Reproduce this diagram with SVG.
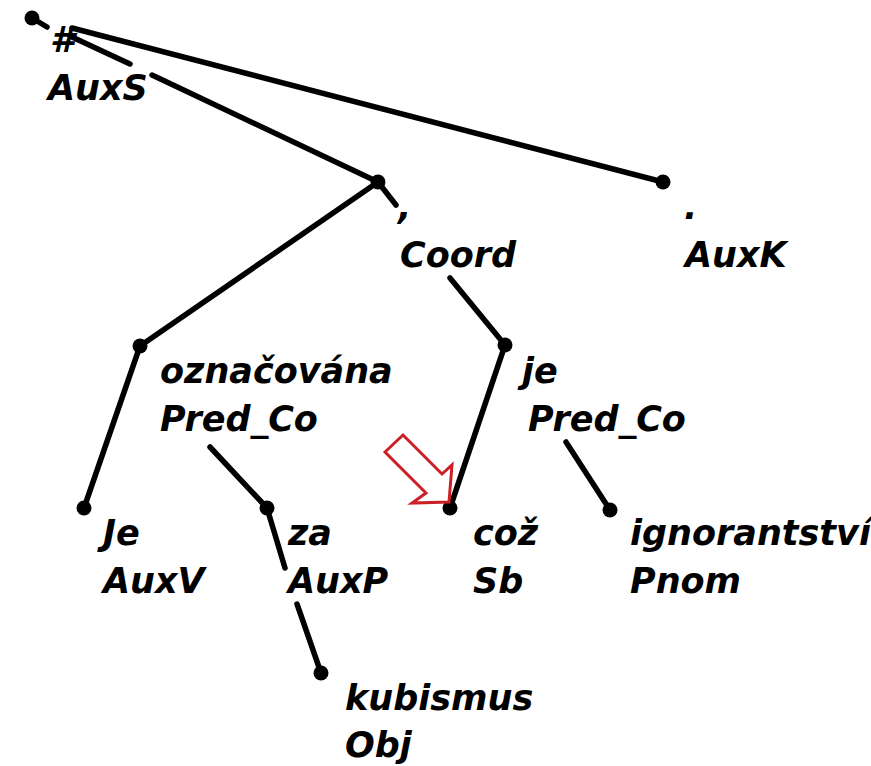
<svg xmlns="http://www.w3.org/2000/svg" width="871" height="766" viewBox="0 0 871 766">
<style>
  .lbl { font-family: "DejaVu Sans", "Liberation Sans", sans-serif; font-style: oblique; font-weight: bold; font-size: 35px; fill: #000; }
  .edge { stroke: #000; stroke-width: 5.5; stroke-linecap: round; fill: none; }
  .dot { fill: #000; }
</style>
<rect width="871" height="766" fill="#fff"/>
<g id="connectors">
  <line class="edge" x1="32" y1="18" x2="47" y2="27"/>
  <line class="edge" x1="72" y1="37" x2="130" y2="64"/>
  <line class="edge" x1="152" y1="75" x2="378" y2="182"/>
  <line class="edge" x1="72" y1="28" x2="663" y2="182"/>
  <line class="edge" x1="378" y1="182" x2="140" y2="346"/>
  <line class="edge" x1="378" y1="182" x2="396" y2="205"/>
  <line class="edge" x1="450" y1="278" x2="505" y2="345"/>
  <line class="edge" x1="140" y1="346" x2="84" y2="508"/>
  <line class="edge" x1="210" y1="447" x2="267" y2="508"/>
  <line class="edge" x1="505" y1="345" x2="450" y2="508"/>
  <line class="edge" x1="566" y1="442" x2="610" y2="510"/>
  <line class="edge" x1="267" y1="508" x2="285" y2="568"/>
  <line class="edge" x1="297" y1="604" x2="321" y2="673"/>
</g>
<g id="n-root"><circle class="dot" cx="32" cy="18" r="7.5"/><text class="lbl" x="50" y="52">#</text><text class="lbl" x="48" y="100">AuxS</text></g>
<g id="n-coord"><circle class="dot" cx="378" cy="182" r="7.5"/><text class="lbl" x="398" y="219">,</text><text class="lbl" x="400" y="267">Coord</text></g>
<g id="n-auxk"><circle class="dot" cx="663" cy="182" r="7.5"/><text class="lbl" x="684" y="219">.</text><text class="lbl" x="685" y="267">AuxK</text></g>
<g id="n-oznacovana"><circle class="dot" cx="140" cy="346" r="7.5"/><text class="lbl" x="160" y="383">označována</text><text class="lbl" x="160" y="431">Pred_Co</text></g>
<g id="n-je"><circle class="dot" cx="505" cy="345" r="7.5"/><text class="lbl" x="522" y="383">je</text><text class="lbl" x="528" y="431">Pred_Co</text></g>
<g id="n-Je"><circle class="dot" cx="84" cy="508" r="7.5"/><text class="lbl" x="103" y="545">Je</text><text class="lbl" x="103" y="593">AuxV</text></g>
<g id="n-za"><circle class="dot" cx="267" cy="508" r="7.5"/><text class="lbl" x="288" y="545">za</text><text class="lbl" x="288" y="593">AuxP</text></g>
<g id="n-coz"><circle class="dot" cx="450" cy="508" r="7.5"/><text class="lbl" x="473" y="545">což</text><text class="lbl" x="473" y="593">Sb</text></g>
<g id="n-ignorantstvi"><circle class="dot" cx="610" cy="510" r="7.5"/><text class="lbl" x="630" y="545">ignorantství</text><text class="lbl" x="630" y="593">Pnom</text></g>
<g id="n-kubismus"><circle class="dot" cx="321" cy="673" r="7.5"/><text class="lbl" x="345" y="710">kubismus</text><text class="lbl" x="345" y="757">Obj</text></g>
<g id="marker-arrow"><polygon points="385,452 403,435 442,474 452,465 449,502 412,503 426,493" fill="none" stroke="#cc2027" stroke-width="3" stroke-linejoin="miter"/></g>
</svg>
